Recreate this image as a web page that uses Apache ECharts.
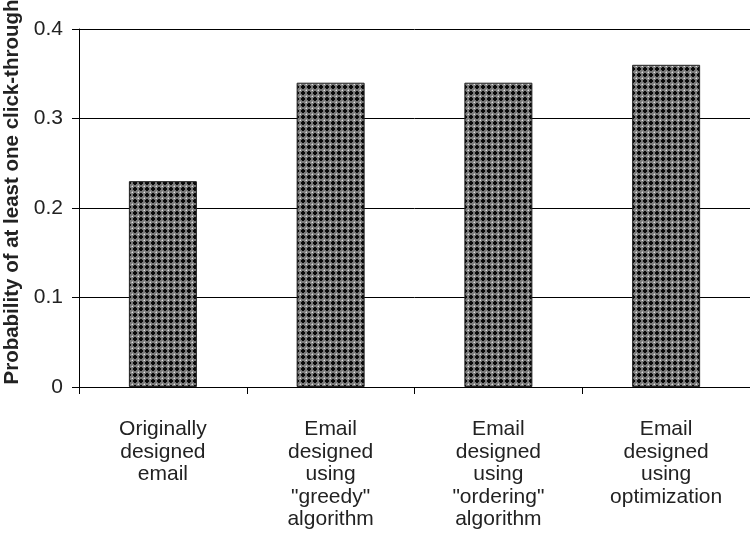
<!DOCTYPE html>
<html style="height: 100%">
<head>
<meta charset="utf-8">
<script src="https://cdn.jsdelivr.net/npm/echarts@6/dist/echarts.min.js"></script>
</head>
<body style="height: 100%; margin: 0; background: #fff">
<div id="container" style="width: 750px; height: 544px"></div>
<script>
var categories = ['Originally\ndesigned\nemail', 'Email\ndesigned\nusing\n"greedy"\nalgorithm', 'Email\ndesigned\nusing\n"ordering"\nalgorithm', 'Email\ndesigned\nusing\noptimization'];
var values = [0.23, 0.34, 0.34, 0.36];
var yTicks = [0, 0.1, 0.2, 0.3, 0.4];

// crosshatch fill for the bars
function makePattern() {
    var c = document.createElement('canvas');
    c.width = 6; c.height = 6;
    var g = c.getContext('2d');
    g.fillStyle = '#7a7a7a';
    g.fillRect(0, 0, 6, 6);
    g.fillStyle = '#0a0a0a';
    g.fillRect(2, 1, 2, 4);
    g.fillRect(1, 2, 4, 2);
    g.fillStyle = '#e0e0e0';
    g.fillRect(0, 0, 1, 1);
    g.fillStyle = '#a8a8a8';
    g.fillRect(5, 0, 1, 1);
    g.fillRect(0, 5, 1, 1);
    return c;
}

var myChart = echarts.init(document.getElementById('container'));
var option = {
    animation: false,
    grid: { left: 79, right: 0, top: 29, bottom: 157, outerBoundsMode: 'none', containLabel: false },
    xAxis: {
        type: 'category',
        data: categories,
        axisLine: { lineStyle: { color: '#000', width: 1 } },
        axisTick: { show: true, length: 7, alignWithLabel: false, lineStyle: { color: '#000' } },
        axisLabel: {
            color: '#222', fontSize: 21, lineHeight: 22.5, margin: 31,
            fontFamily: 'Liberation Sans, Arial, sans-serif', interval: 0
        }
    },
    yAxis: {
        type: 'value',
        min: 0, max: 0.4, interval: 0.1,
        name: 'Probability of at least one click-through',
        nameLocation: 'middle',
        nameGap: 55,
        nameTextStyle: {
            color: '#222', fontSize: 20.5, fontWeight: 'bold',
            fontFamily: 'Liberation Sans, Arial, sans-serif',
            padding: [0, 0, 0, 32]
        },
        axisLine: { show: true, lineStyle: { color: '#000', width: 1 } },
        axisTick: { show: true, length: 7, lineStyle: { color: '#000' } },
        splitLine: { show: true, lineStyle: { color: '#000', width: 1 } },
        axisLabel: {
            color: '#222', fontSize: 21, margin: 16,
            fontFamily: 'Liberation Sans, Arial, sans-serif',
            formatter: function (v) { return yTicks.indexOf(Math.round(v * 10) / 10) >= 0 ? (v === 0 ? '0' : v.toFixed(1)) : ''; }
        }
    },
    series: [{
        type: 'bar',
        data: values,
        barWidth: 68,
        itemStyle: {
            color: { image: makePattern(), repeat: 'repeat' },
            borderColor: '#222',
            borderWidth: 1
        }
    }]
};
myChart.setOption(option);
</script>
</body>
</html>
